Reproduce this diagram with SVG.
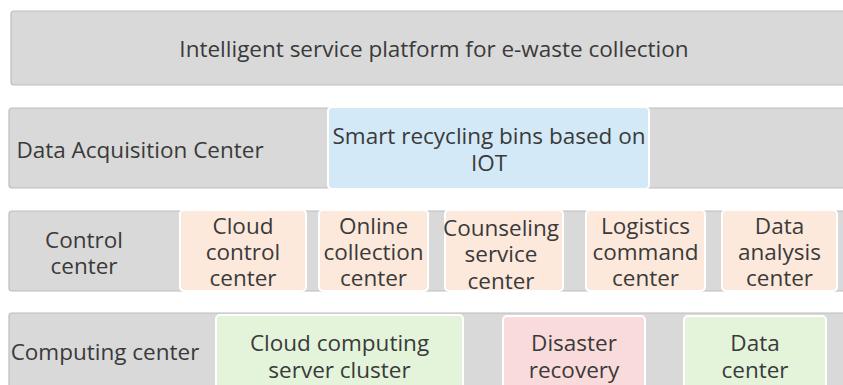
<svg xmlns="http://www.w3.org/2000/svg" width="843" height="385" viewBox="0 0 843 385">
<style>
.bar{fill:#d9d9d9;stroke:#bdbdbd;stroke-width:1.2}
.box{stroke:#ffffff;stroke-width:2}
.blue{fill:#d3e9f7}
.peach{fill:#fce9dc}
.green{fill:#e3f4da}
.pink{fill:#fadbdb}
text{font-family:"Open Sans","Noto Sans",sans-serif;font-size:22.5px;fill:#3a3a3a;text-anchor:middle}
</style>
<rect width="843" height="385" fill="#ffffff"/>
<g id="platform">
<rect class="bar" x="11" y="11" width="850" height="74" rx="3"/>
<text x="434" y="57">Intelligent service platform for e-waste collection</text>
</g>
<g id="acquisition">
<rect class="bar" x="9" y="108" width="850" height="80" rx="3"/>
<text x="140" y="158">Data Acquisition Center</text>
</g>
<g id="bins">
<rect class="box blue" x="328" y="107" width="321" height="82" rx="4"/>
<text x="489" y="144">Smart recycling bins based on</text>
<text x="489" y="171">IOT</text>
</g>
<g id="control">
<rect class="bar" x="9" y="211" width="850" height="80" rx="3"/>
<text x="84" y="248">Control</text>
<text x="84" y="274">center</text>
</g>
<g id="cloudcontrol">
<rect class="box peach" x="180" y="210" width="126" height="81" rx="4"/>
<text x="243" y="234">Cloud</text>
<text x="243" y="260">control</text>
<text x="243" y="286">center</text>
</g>
<g id="online">
<rect class="box peach" x="319" y="210" width="109" height="81" rx="4"/>
<text x="373.5" y="234">Online</text>
<text x="373.5" y="260">collection</text>
<text x="373.5" y="286">center</text>
</g>
<g id="counseling">
<rect class="box peach" x="445" y="210" width="118" height="81" rx="4"/>
<text x="501" y="236">Counseling</text>
<text x="501" y="262">service</text>
<text x="501" y="289">center</text>
</g>
<g id="logistics">
<rect class="box peach" x="586" y="210" width="119" height="81" rx="4"/>
<text x="645.5" y="234">Logistics</text>
<text x="645.5" y="260">command</text>
<text x="645.5" y="286">center</text>
</g>
<g id="analysis">
<rect class="box peach" x="722" y="210" width="115" height="81" rx="4"/>
<text x="779.5" y="234">Data</text>
<text x="779.5" y="260">analysis</text>
<text x="779.5" y="286">center</text>
</g>
<g id="computing">
<rect class="bar" x="9" y="313" width="850" height="90" rx="3"/>
<text x="105" y="360">Computing center</text>
</g>
<g id="cluster">
<rect class="box green" x="216" y="315" width="247" height="90" rx="4"/>
<text x="339.5" y="351">Cloud computing</text>
<text x="339.5" y="378">server cluster</text>
</g>
<g id="disaster">
<rect class="box pink" x="503" y="316" width="142" height="90" rx="4"/>
<text x="574" y="351">Disaster</text>
<text x="574" y="378">recovery</text>
</g>
<g id="datacenter">
<rect class="box green" x="684" y="316" width="142" height="90" rx="4"/>
<text x="755" y="351">Data</text>
<text x="755" y="378">center</text>
</g>
<g id="connectors"></g>
</svg>
